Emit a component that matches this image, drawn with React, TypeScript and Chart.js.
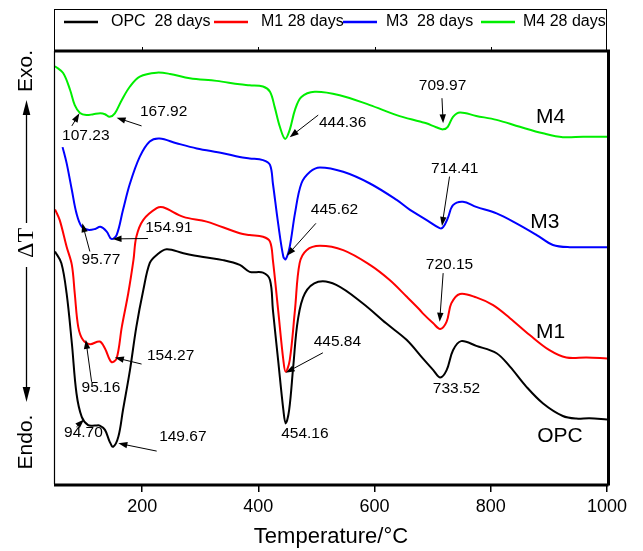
import React, { useEffect, useRef } from 'react';
import { Chart, registerables } from 'chart.js';

Chart.register(...registerables);

// ---- data (temperature in °C, ΔT in arbitrary units 0..100) ----
const temperatureTicks = [200, 400, 600, 800, 1000];

const opcTemp = [50,61,70,79,87,96,107,119,127,136,144,150,159,167,179,190,202,213,225,242,271,305,339,368,385,408,420,425,434,443,447,453,460,468,480,503,534,580,620,655,683,701,713,724,735,749,775,810,833,861,890,924,947,970,1000];
const opcDT = [53.7,51.0,44.0,32.5,20.9,15.5,13.6,13.5,13.5,12.5,9.8,8.6,10.9,17.1,26.3,36.3,44.8,51.0,52.9,54.2,53.3,52.4,51.7,50.6,49.0,48.8,47.1,40.2,28.6,17.1,14.0,17.1,27.1,37.9,44.0,46.7,46.0,41.7,37.1,33.3,29.0,26.3,24.6,26.3,30.9,33.0,31.9,30.2,27.1,22.5,18.6,15.7,15.1,15.2,14.9];

const m1Temp = [50,58,70,79,84,90,98,110,127,136,147,156,165,176,185,190,202,225,236,271,311,368,385,408,420,425,434,443,447,454,463,471,483,506,546,592,626,655,678,683,701,713,724,732,747,775,804,833,867,901,930,965,1000];
const m1DT = [63.4,61.0,54.8,50.6,44.0,36.3,33.3,32.3,32.9,31.3,28.2,29.0,36.3,44.0,51.7,57.1,61.0,63.7,63.9,61.7,60.6,57.9,57.5,57.1,56.0,51.7,40.2,28.6,25.9,28.6,40.2,51.0,54.0,55.0,54.0,50.6,47.1,43.3,40.2,39.4,37.1,35.8,37.5,41.7,43.9,43.1,41.3,38.3,34.4,30.9,29.2,29.2,29.0];

const m3Temp = [63,70,79,87,96,107,119,128,139,147,156,167,179,196,213,230,259,294,339,368,385,408,420,425,434,443,447,454,463,474,489,506,546,592,638,661,689,712,718,726,735,752,775,810,844,879,907,936,1000];
const m3DT = [77.8,74.1,67.9,62.5,59.4,58.7,58.9,59.4,58.3,56.6,57.5,63.3,69.4,75.6,79.1,79.8,78.7,77.5,76.4,75.5,75.2,74.8,73.7,69.4,60.2,52.5,51.9,54.8,62.5,69.4,72.1,73.1,72.1,69.4,65.6,63.3,61.0,59.1,59.3,61.4,64.4,65.2,64.0,62.5,60.2,57.5,55.2,54.7,54.7];

const m4Temp = [50,64,76,84,93,104,116,128,136,144,153,165,179,196,225,248,282,328,368,385,408,420,428,437,446,454,463,474,497,540,592,638,678,689,706,718,726,735,747,775,810,850,890,924,959,1000];
const m4DT = [96.5,94.9,91.0,87.5,85.7,85.2,85.4,85.6,85.4,84.8,85.6,88.7,91.8,94.1,95.0,94.7,93.7,93.1,92.3,92.1,91.8,90.6,87.1,82.5,79.7,81.8,86.4,89.4,90.6,89.8,87.5,85.2,83.7,83.3,82.4,81.9,82.5,84.8,85.8,85.0,84.1,82.5,81.0,80.1,80.2,80.2];

const seriesNames = ['OPC  28 days', 'M1 28 days', 'M3  28 days', 'M4 28 days'];
const seriesColors = ['#000000', '#ff0000', '#0000ff', '#00ee00'];

// peak labels: text, temperature, ΔT
const peakLabels: [string, number, number][] = [
  ['107.23', 103, 80.4], ['167.92', 237, 86.0], ['444.36', 545, 83.4], ['709.97', 717, 91.9],
  ['95.77', 129, 51.7], ['154.91', 246, 59.1], ['445.62', 531, 63.3], ['714.41', 738, 72.7],
  ['720.15', 729, 50.6], ['95.16', 129, 22.2], ['154.27', 249, 29.7], ['445.84', 536, 32.9],
  ['454.16', 480, 11.5], ['733.52', 741, 21.9], ['94.70', 99, 11.8], ['149.67', 270, 10.9],
];
const curveNames: [string, number, number][] = [
  ['M4', 903, 84.8], ['M3', 893, 60.5], ['M1', 903, 35.0], ['OPC', 919, 11.1],
];
// arrows: from (T, ΔT) to (T, ΔT)
const peakArrows: [number, number, number, number][] = [
  [79, 82.7, 92, 85.6], [199, 82.7, 156, 84.6], [503, 85.2, 454, 80.1], [716, 89.1, 718, 83.3],
  [110, 53.7, 97, 60.2], [210, 56.7, 149, 56.6], [499, 60.2, 449, 52.7], [729, 71.0, 716, 59.6],
  [718, 48.7, 712, 37.5], [113, 23.6, 103, 33.3], [199, 27.7, 153, 29.2], [511, 30.3, 447, 25.7],
  [87, 13.2, 100, 14.9], [225, 7.6, 159, 9.4],
];

const FONT = '"Liberation Sans", Arial, Helvetica, sans-serif';

function drawArrow(ctx: CanvasRenderingContext2D, x1: number, y1: number, x2: number, y2: number, len = 9, half = 3.2) {
  const a = Math.atan2(y2 - y1, x2 - x1);
  const c = Math.cos(a), s = Math.sin(a);
  ctx.beginPath();
  ctx.moveTo(x1, y1);
  ctx.lineTo(x2 - c * len * 0.7, y2 - s * len * 0.7);
  ctx.stroke();
  ctx.beginPath();
  ctx.moveTo(x2, y2);
  ctx.lineTo(x2 - c * len - s * half, y2 - s * len + c * half);
  ctx.lineTo(x2 - c * len + s * half, y2 - s * len - c * half);
  ctx.closePath();
  ctx.fill();
}

const overlayPlugin = {
  id: 'overlay',
  afterDraw(chart: any) {
    const { ctx, chartArea: ca, scales } = chart;
    const xs = scales.x, ys = scales.y;
    ctx.save();
    ctx.strokeStyle = '#000';
    ctx.fillStyle = '#000';

    // frame
    ctx.lineWidth = 1.2;
    ctx.beginPath();
    ctx.moveTo(ca.left - 0.5, ca.top);
    ctx.lineTo(ca.left - 0.5, ca.bottom);
    ctx.stroke();
    ctx.lineWidth = 3;
    ctx.beginPath();
    ctx.moveTo(ca.left - 1, ca.top);
    ctx.lineTo(ca.right + 1.5, ca.top);
    ctx.moveTo(ca.right + 1.5, ca.top - 1.5);
    ctx.lineTo(ca.right + 1.5, ca.bottom + 1.5);
    ctx.moveTo(ca.left - 1, ca.bottom + 1);
    ctx.lineTo(ca.right + 1.5, ca.bottom + 1);
    ctx.stroke();
    // small top ticks
    ctx.lineWidth = 1;
    ctx.beginPath();
    for (const t of temperatureTicks.slice(0, -1)) {
      const px = Math.round(xs.getPixelForValue(t)) + 0.5;
      ctx.moveTo(px, ca.top);
      ctx.lineTo(px, ca.top - 4);
    }
    ctx.stroke();

    // legend box
    ctx.lineWidth = 1;
    ctx.strokeRect(ca.left - 0.5, 9.5, ca.right - ca.left, ca.top - 9.5);
    const lineStarts = [9, 159, 288, 426];
    const textStarts = [56, 206, 331, 468];
    ctx.font = `16px ${FONT}`;
    ctx.textBaseline = 'middle';
    ctx.textAlign = 'left';
    for (let i = 0; i < seriesNames.length; i++) {
      ctx.strokeStyle = seriesColors[i];
      ctx.lineWidth = 2.5;
      ctx.beginPath();
      ctx.moveTo(ca.left + lineStarts[i], 22);
      ctx.lineTo(ca.left + lineStarts[i] + 34, 22);
      ctx.stroke();
      ctx.fillStyle = '#000';
      ctx.fillText(seriesNames[i], ca.left + textStarts[i], 22);
    }

    // peak labels
    ctx.fillStyle = '#000';
    ctx.strokeStyle = '#000';
    ctx.textAlign = 'center';
    ctx.font = `15.5px ${FONT}`;
    for (const [txt, t, v] of peakLabels) {
      ctx.fillText(txt, xs.getPixelForValue(t), ys.getPixelForValue(v));
    }
    ctx.font = `21px ${FONT}`;
    for (const [txt, t, v] of curveNames) {
      ctx.fillText(txt, xs.getPixelForValue(t), ys.getPixelForValue(v));
    }
    ctx.lineWidth = 1;
    for (const [t1, v1, t2, v2] of peakArrows) {
      drawArrow(ctx, xs.getPixelForValue(t1), ys.getPixelForValue(v1), xs.getPixelForValue(t2), ys.getPixelForValue(v2));
    }

    // y-axis side label: Exo. ↑ ΔT ↓ Endo.
    const ax = 26.5;
    const rot = (txt: string, y: number, font: string) => {
      ctx.save();
      ctx.translate(ax, y);
      ctx.rotate(-Math.PI / 2);
      ctx.font = font;
      ctx.textAlign = 'center';
      ctx.textBaseline = 'middle';
      ctx.fillText(txt, 0, 0);
      ctx.restore();
    };
    rot('Exo.', 71, `21px ${FONT}`);
    rot('\u0394T', 243, `24px "Liberation Serif", "Times New Roman", serif`);
    rot('Endo.', 442, `21px ${FONT}`);
    ctx.lineWidth = 1.3;
    drawArrow(ctx, ax, 223, ax, 100, 15, 3.8);
    drawArrow(ctx, ax, 267, ax, 402, 15, 3.8);

    ctx.restore();
  },
};

function makePoints(ts: number[], vs: number[]) {
  return ts.map((t, i) => ({ x: t, y: vs[i] }));
}

export default function App() {
  const ref = useRef<HTMLCanvasElement>(null);

  useEffect(() => {
    if (!ref.current) return;
    const temps = [opcTemp, m1Temp, m3Temp, m4Temp];
    const vals = [opcDT, m1DT, m3DT, m4DT];
    const chart = new Chart(ref.current, {
      type: 'line',
      data: {
        datasets: seriesNames.map((name, i) => ({
          label: name,
          data: makePoints(temps[i], vals[i]),
          borderColor: seriesColors[i],
          backgroundColor: seriesColors[i],
          borderWidth: 2,
          pointRadius: 0,
          tension: 0.35,
          fill: false,
        })),
      },
      options: {
        responsive: false,
        animation: false,
        devicePixelRatio: 1,
        layout: { padding: { left: 55, right: 36, top: 51, bottom: 0 } },
        plugins: { legend: { display: false }, tooltip: { enabled: false } },
        scales: {
          x: {
            type: 'linear',
            min: 50,
            max: 1000,
            afterBuildTicks: (s: any) => { s.ticks = temperatureTicks.map((v) => ({ value: v })); },
            afterFit: (s: any) => { s.height = 67; },
            border: { display: false },
            grid: { drawOnChartArea: false, drawTicks: true, tickLength: 8, color: '#000', lineWidth: 1.5 },
            ticks: {
              color: '#000',
              font: { family: FONT, size: 18 },
              padding: 4,
              maxRotation: 0,
              autoSkip: false,
              callback: (v: any) => String(v),
            },
            title: {
              display: true,
              text: 'Temperature/\u00B0C',
              color: '#000',
              font: { family: FONT, size: 22 },
              padding: { top: 0, bottom: 1 },
            },
          },
          y: { type: 'linear', min: 0, max: 100, display: false },
        },
      },
      plugins: [overlayPlugin],
    });
    return () => chart.destroy();
  }, []);

  return (
    <div style={{ position: 'fixed', left: 0, top: 0, width: 643, height: 551, background: '#fff' }}>
      <canvas ref={ref} width={643} height={551} style={{ display: 'block' }} />
    </div>
  );
}
